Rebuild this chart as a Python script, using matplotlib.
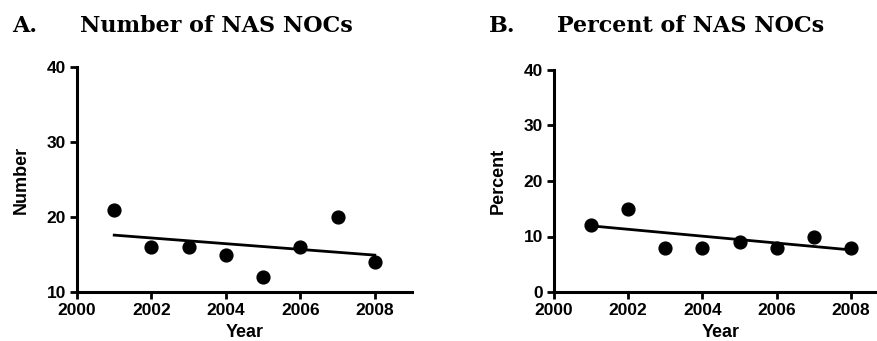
import numpy as np
import matplotlib
matplotlib.use("Agg")
import matplotlib.pyplot as plt

years = [2001, 2002, 2003, 2004, 2005, 2006, 2007, 2008]
number_nocs = [21, 16, 16, 15, 12, 16, 20, 14]
percent_nocs = [12, 15, 8, 8, 9, 8, 10, 8]
xticks = [2000, 2002, 2004, 2006, 2008]

plt.rcParams['font.family'] = ['Liberation Sans', 'DejaVu Sans']
plt.rcParams['font.weight'] = 'bold'

fig = plt.figure(figsize=(8.77, 3.41), dpi=100)

def panel(rect, y, ylim, yticks, ylabel):
    ax = fig.add_axes(rect)
    ax.scatter(years, y, s=85, color='black', zorder=3, clip_on=False)
    slope, icpt = np.polyfit(years, y, 1)
    xs = np.array([years[0], years[-1]])
    ax.plot(xs, slope * xs + icpt, color='black', lw=2)
    ax.set_xlim(2000, 2009)
    ax.set_ylim(*ylim)
    ax.set_xticks(xticks)
    ax.set_yticks(yticks)
    for s in ['top', 'right']:
        ax.spines[s].set_visible(False)
    for s in ['left', 'bottom']:
        ax.spines[s].set_linewidth(2.2)
    ax.tick_params(direction='out', length=5, width=2, labelsize=12.5, pad=3)
    for lab in ax.get_xticklabels() + ax.get_yticklabels():
        lab.set_fontweight('bold')
    ax.set_xlabel('Year', fontsize=13, fontweight='bold', labelpad=4)
    ax.set_ylabel(ylabel, fontsize=13, fontweight='bold', labelpad=12)
    return ax

panel([77/877, 49/341, 335/877, 225/341], number_nocs, (10, 40), [10, 20, 30, 40], 'Number')
panel([554/877, 49/341, 334/877, 222/341], percent_nocs, (0, 40), [0, 10, 20, 30, 40], 'Percent')

tfont = dict(family=['DejaVu Serif'], fontsize=16, fontweight='bold', va='baseline', ha='left')
fig.text(12/877, 1 - 32/341, 'A.', **tfont)
fig.text(80/877, 1 - 32/341, 'Number of NAS NOCs', **tfont)
fig.text(489/877, 1 - 32/341, 'B.', **tfont)
fig.text(557/877, 1 - 32/341, 'Percent of NAS NOCs', **tfont)

fig.savefig('out.png', dpi=100)
